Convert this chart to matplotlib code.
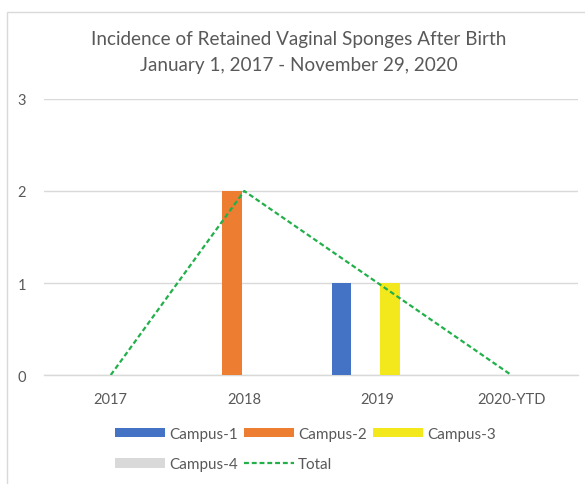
import matplotlib
matplotlib.use("Agg")
import matplotlib.pyplot as plt
import numpy as np
from matplotlib.patches import Patch, Rectangle
from matplotlib.lines import Line2D

plt.rcParams['font.family'] = ['Lato', 'DejaVu Sans']

categories = ["2017", "2018", "2019", "2020-YTD"]
campus_1 = [0, 0, 1, 0]
campus_2 = [0, 2, 0, 0]
campus_3 = [0, 0, 1, 0]
campus_4 = [0, 0, 0, 0]
total = [0, 2, 1, 0]
series_names = ["Campus-1", "Campus-2", "Campus-3", "Campus-4"]
colors = ["#4472C4", "#ED7D31", "#F2E81C", "#D9D9D9"]
line_color = "#22B04B"
text_color = "#595959"

fig = plt.figure(figsize=(5.85, 4.85), dpi=100)
# outer chart border
fig.patches.append(Rectangle((7/585, -0.1), 1.2, 1 - 13/485 + 0.1, transform=fig.transFigure,
                             fill=False, edgecolor="#D9D9D9", linewidth=1))

ax = fig.add_axes([44/585, 1 - 376/485, (578 - 44)/585, (376 - 100)/485])
x = np.arange(len(categories))
step = 0.18
width = 0.146
series = [campus_1, campus_2, campus_3, campus_4]
offsets = [-1.5, -0.5, 0.5, 1.5]
for vals, c, off, name in zip(series, colors, offsets, series_names):
    ax.bar(x + off * step, vals, width=width, color=c, linewidth=0, label=name, zorder=3)
ax.plot(x, total, color=line_color, linestyle=(0, (2.2, 1.3)), linewidth=1.6, zorder=4)

ax.set_xlim(-0.5, len(categories) - 0.5)
ax.set_ylim(0, 3)
ax.set_yticks([0, 1, 2, 3])
ax.set_xticks(x)
ax.set_xticklabels(categories)
ax.grid(axis="y", color="#D9D9D9", linewidth=1, zorder=0)
for s in ["top", "right", "left"]:
    ax.spines[s].set_visible(False)
ax.spines["bottom"].set_color("#D9D9D9")
ax.spines["bottom"].set_linewidth(1)
ax.tick_params(axis="both", length=0, colors=text_color, labelsize=10.5)
ax.tick_params(axis="y", pad=13)
ax.tick_params(axis="x", pad=12)

fig.text(299/585, 1 - 40/485, "Incidence of Retained Vaginal Sponges After Birth",
         ha="center", va="center", fontsize=13.6, color=text_color)
fig.text(299/585, 1 - 65/485, "January 1, 2017 - November 29, 2020",
         ha="center", va="center", fontsize=13.6, color=text_color)

handles = [Patch(color=c, linewidth=0) for c in colors]
line_h = Line2D([], [], color=line_color, linestyle=(0, (2.2, 1.3)), linewidth=1.6)
order_h = [handles[0], handles[3], handles[1], line_h, handles[2]]
order_l = ["Campus-1", "Campus-4", "Campus-2", "Total", "Campus-3"]
leg = fig.legend(order_h, order_l, ncol=3, loc="center left",
                 bbox_to_anchor=(101/585, 1 - 450/485), frameon=False,
                 fontsize=11, labelcolor=text_color, handlelength=3.3, handleheight=0.55,
                 handletextpad=0.25, columnspacing=0.4, labelspacing=1.1)

fig.savefig("out.png", dpi=100)
